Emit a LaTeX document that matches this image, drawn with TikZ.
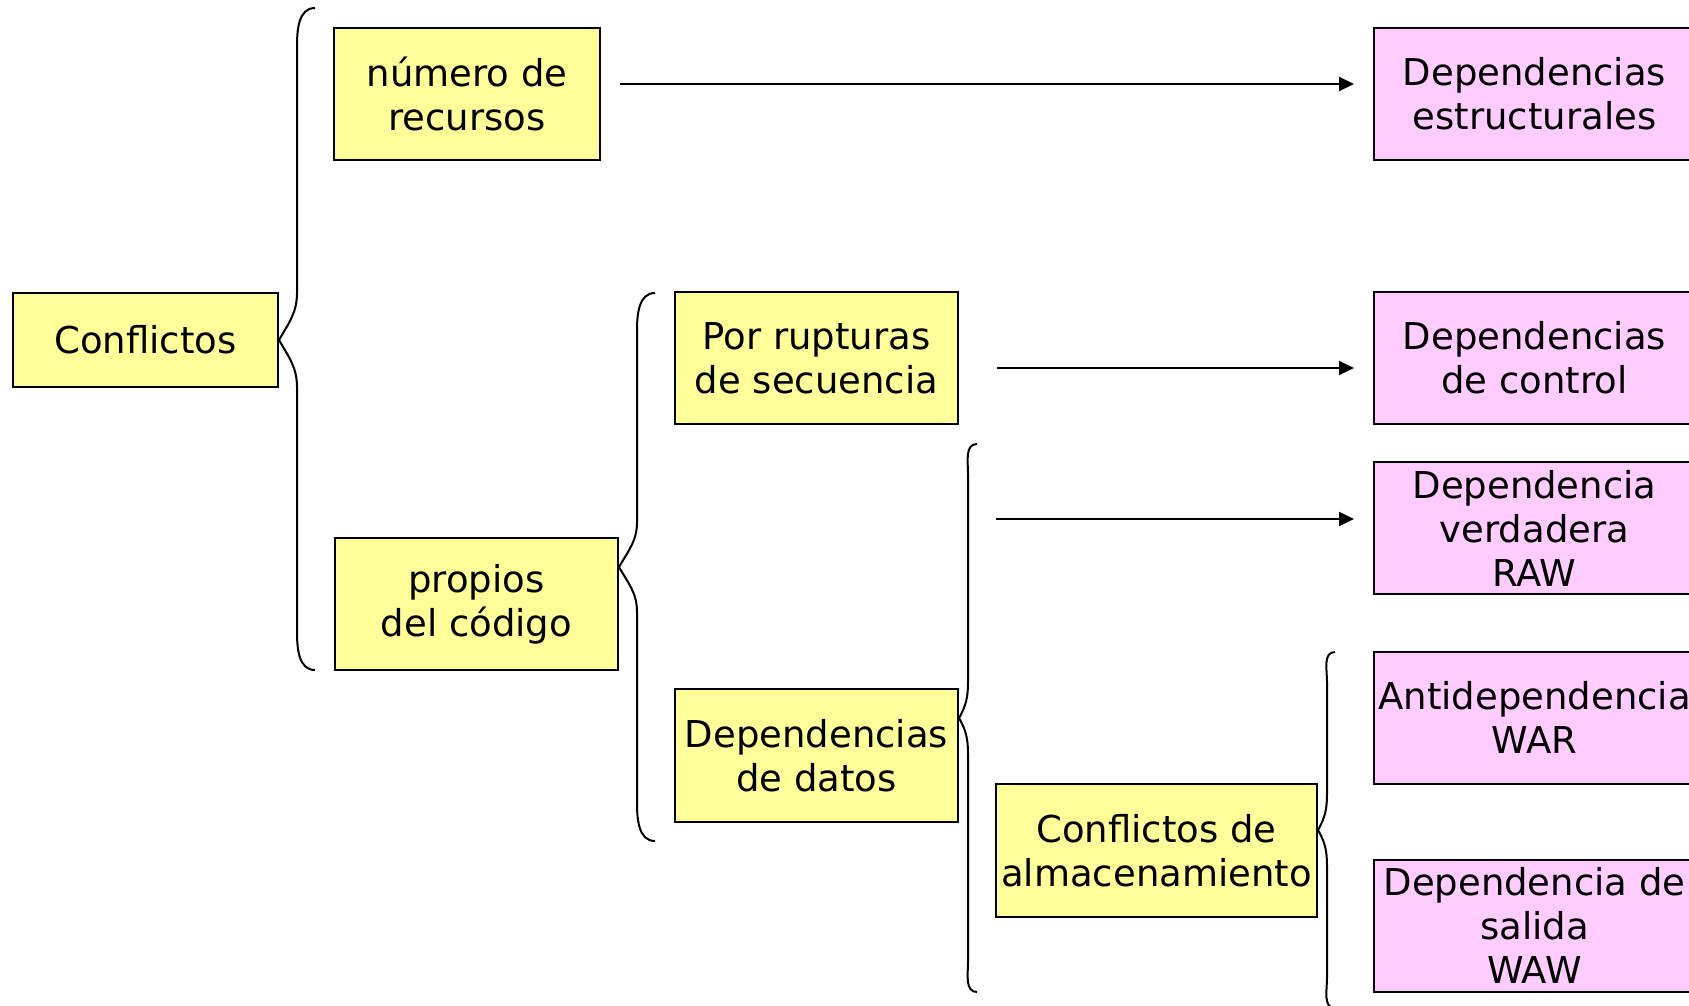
\documentclass[tikz,border=0pt]{standalone}
\usepackage{fontspec}
\setmainfont{DejaVu Sans}
\usetikzlibrary{arrows.meta}
\definecolor{boxyellow}{HTML}{FFFF99}
\definecolor{boxpink}{HTML}{FFCCFF}
\newcommand{\mycurlybrace}[8]{% #1 tip, #2 ytip, #3 xv, #4 xe, #5 ytop, #6 ybot, #7 hm, #8 he
  \draw[brc] (#4,#5) to[out=180,in=90] (#3,{#5+#8}) -- (#3,{#2-#7})
    to[out=-90,in=60] (#1) to[out=-60,in=90] (#3,{#2+#7}) -- (#3,{#6-#8})
    to[out=-90,in=180] (#4,#6);}
\begin{document}
\begin{tikzpicture}[x=1pt,y=-1pt,
  base/.style={draw=black,line width=2pt,inner sep=0pt,align=center,
    font=\fontsize{37pt}{44pt}\selectfont},
  ybox/.style={base,fill=boxyellow},
  pbox/.style={base,fill=boxpink,minimum width=321pt,minimum height=132pt},
  arr/.style={line width=2pt,-{Triangle[length=15pt,width=14pt]}},
  brc/.style={line width=2pt}]
\useasboundingbox (0,0) rectangle (1689,1005);
% yellow boxes
\node[ybox,minimum width=265pt,minimum height=94pt] (conf) at (145.5,340) {Conflictos};
\node[ybox,minimum width=266pt,minimum height=132pt] (num) at (467,94) {número de\\recursos};
\node[ybox,minimum width=283pt,minimum height=132pt] (prop) at (476.5,604) {propios\\del código};
\node[ybox,minimum width=283pt,minimum height=132pt] (rupt) at (816.5,358) {Por rupturas\\de secuencia};
\node[ybox,minimum width=283pt,minimum height=133pt] (datos) at (816.5,755.5) {Dependencias\\de datos};
\node[ybox,minimum width=321pt,minimum height=133pt] (alm) at (1156.5,850.5) {Conflictos de\\almacenamiento};
% pink boxes
\node[pbox] (est) at (1534.5,94) {Dependencias\\estructurales};
\node[pbox] (ctrl) at (1534.5,358) {Dependencias\\de control};
\node[pbox] (raw) at (1534.5,528) {Dependencia\\verdadera\\RAW};
\node[pbox] (war) at (1534.5,717.5) {Antidependencia\\WAR};
\node[pbox] (waw) at (1534.5,925.5) {Dependencia de\\salida\\WAW};
% braces
\mycurlybrace{conf.east}{340}{297}{315}{8}{670}{47}{39}
\mycurlybrace{[yshift=37pt]prop.east}{567}{637}{655}{293}{841}{45}{38}
\mycurlybrace{[yshift=37.5pt]datos.east}{718}{968}{977}{444}{992}{36}{30}
\mycurlybrace{[yshift=20.5pt]alm.east}{830}{1327}{1335}{652}{1008}{36}{30}
% arrows
\coordinate (rawsrc) at (996,519);
\path (rawsrc -| raw.west) coordinate (rawtgt);
\draw[arr] ([xshift=19pt,yshift=10pt]num.east) -- ([xshift=-19pt,yshift=10pt]est.west);
\draw[arr] ([xshift=38pt,yshift=-10pt]rupt.east) -- ([xshift=-19pt,yshift=-10pt]ctrl.west);
\draw[arr] (rawsrc) -- ([xshift=-19pt]rawtgt);
\end{tikzpicture}
\end{document}
